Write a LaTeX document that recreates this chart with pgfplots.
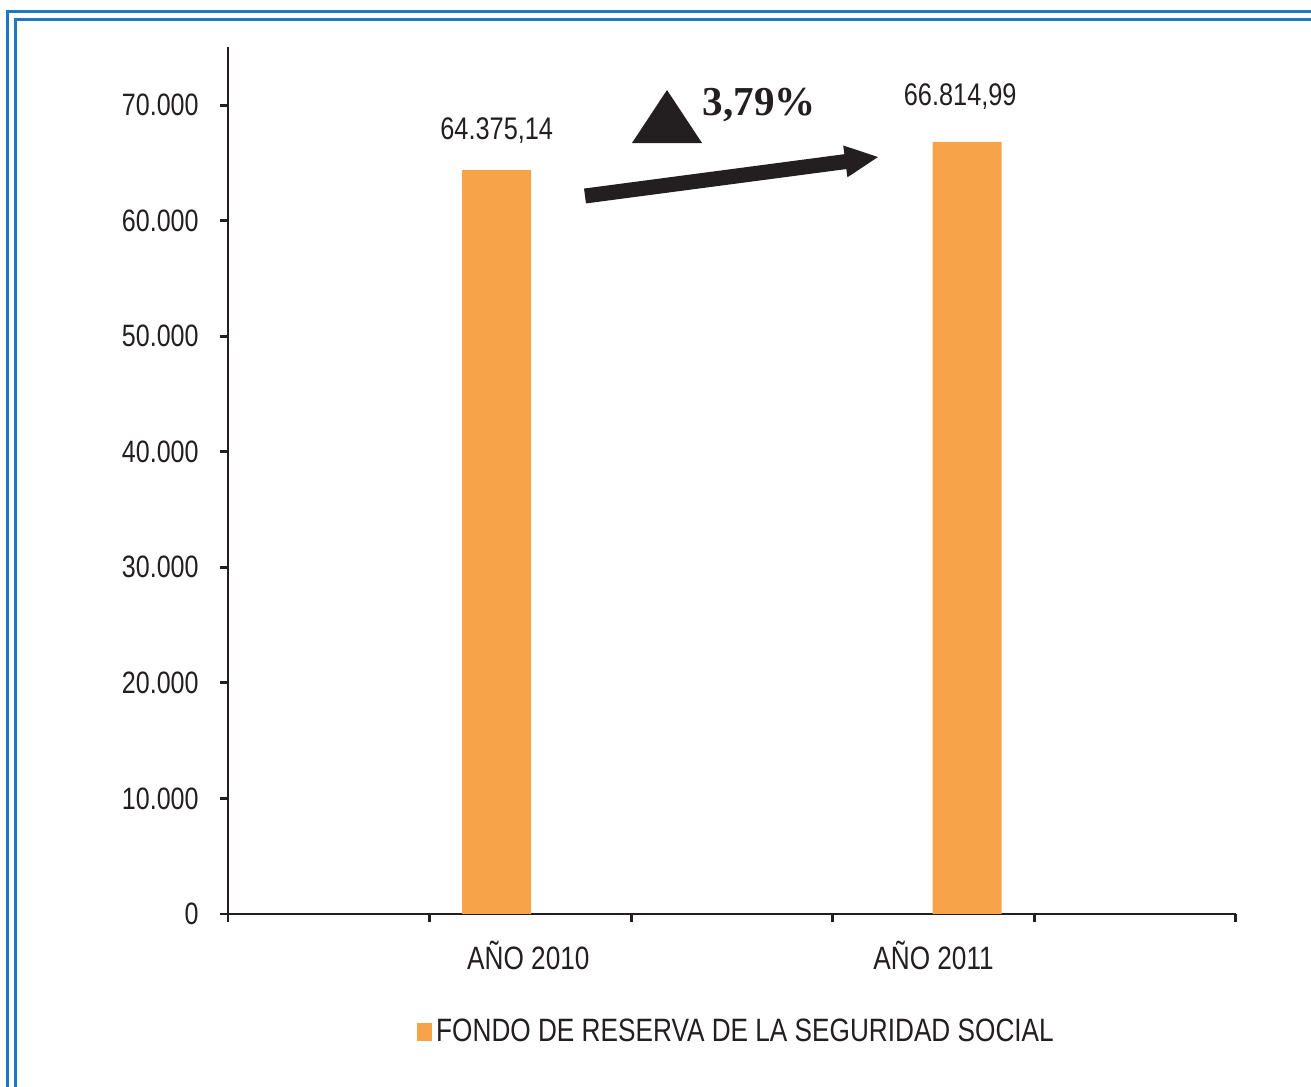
\documentclass[border=0pt]{standalone}
\usepackage{pgfplots}
\pgfplotsset{compat=1.18}
\usepackage{fontspec}
\setmainfont{Liberation Sans}[FakeStretch=0.81]
\newfontfamily\serifbf{Liberation Serif}
\definecolor{barc}{RGB}{247,163,74}
\definecolor{framec}{RGB}{30,120,195}
\definecolor{axc}{RGB}{35,31,32}
\begin{document}
\begin{tikzpicture}[x=0.1mm,y=-0.1mm]
\useasboundingbox (0,0) rectangle (1311,1087);
\draw[framec, line width=0.6pt] (1311,11.5) -- (7.5,11.5) -- (7.5,1087);
\draw[framec, line width=0.6pt] (1311,19.5) -- (15.5,19.5) -- (15.5,1087);
\begin{axis}[
  at={(22.8mm,-91.4mm)}, anchor=south west,
  scale only axis, width=100.8mm, height=86.68mm,
  xmin=0, xmax=5, ymin=0, ymax=75000,
  axis x line*=bottom, axis y line*=left,
  axis line style={axc, line width=0.85pt, -},
  tick align=outside,
  major tick length=0.8mm,
  tick style={axc, line width=0.85pt},
  xtick={0,1,2,3,4,5}, xticklabels={},
  extra x ticks={1.49,3.5},
  extra x tick labels={AÑO 2010,AÑO 2011},
  extra x tick style={major tick length=0pt, xticklabel style={font=\fontsize{9.2}{11}\selectfont, text=axc, yshift=-1.5mm}},
  ytick={0,10000,...,70000},
  scaled y ticks=false,
  yticklabel style={font=\fontsize{8.8}{10}\selectfont, text=axc, xshift=-0.9mm, /pgf/number format/1000 sep={.}, /pgf/number format/assume math mode=true},
  legend style={draw=none, at={(0.5055,-0.137)}, anchor=center, font=\fontsize{9.2}{11}\selectfont, text=axc, nodes={inner sep=0.4mm}},
  clip=false,
]
\addplot[ybar, fill=barc, draw=none, bar width=6.9mm, bar shift=0pt,
  legend image code/.code={\fill[barc] (0mm,-0.8mm) rectangle (1.5mm,1.0mm);}]
  coordinates {(1.333,64375.14) (3.667,66814.99)};
\addlegendentry{FONDO DE RESERVA DE LA SEGURIDAD SOCIAL}
\node[anchor=base, font=\fontsize{8.9}{10}\selectfont, text=axc, inner sep=0pt, yshift=3.1mm] at (axis cs:1.333,64375.14) {64.375,14};
\node[anchor=base, font=\fontsize{8.9}{10}\selectfont, text=axc, inner sep=0pt, yshift=3.6mm, xshift=-0.7mm] at (axis cs:3.667,66814.99) {66.814,99};
\end{axis}
\fill[axc] (632,143) -- (702,143) -- (667,90) -- cycle;
\node[anchor=base west, font=\serifbf\bfseries\fontsize{11.7}{13}\selectfont, text=axc, inner sep=0pt] at (702,115) {3,79\%};
\draw[axc, line width=1.5mm, line cap=butt] (585,196) -- (847,161.4);
\fill[axc] (878,157) -- (847.4,177.3) -- (843.2,145.5) -- cycle;
\end{tikzpicture}
\end{document}
